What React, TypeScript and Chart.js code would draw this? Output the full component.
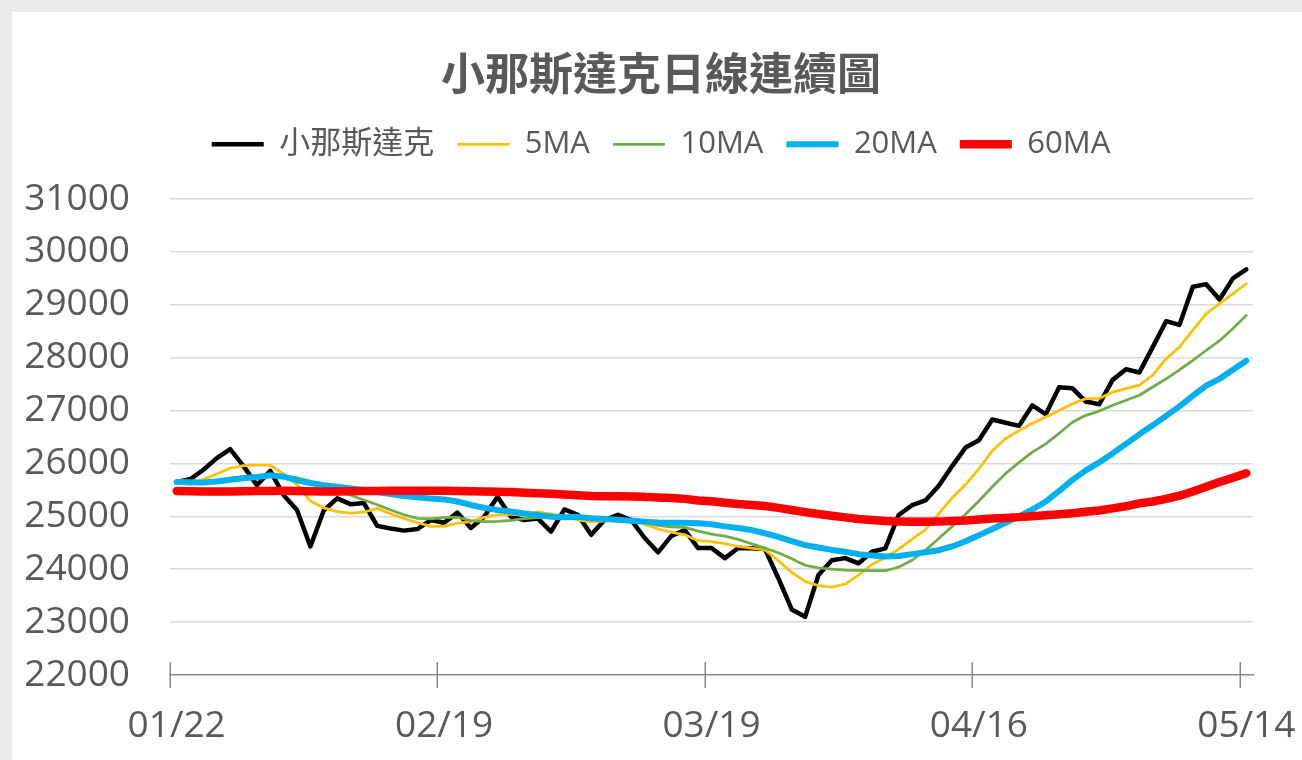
import React, { useEffect, useRef } from 'react';
import { Chart, registerables } from 'chart.js';

Chart.register(...registerables);

// Trading days (weekdays) from 01/22 to 05/14
const dates: string[] = [
  '01/22', '01/23', '01/26', '01/27', '01/28', '01/29', '01/30', '02/02', '02/03', '02/04',
  '02/05', '02/06', '02/09', '02/10', '02/11', '02/12', '02/13', '02/16', '02/17', '02/18',
  '02/19', '02/20', '02/23', '02/24', '02/25', '02/26', '02/27', '03/02', '03/03', '03/04',
  '03/05', '03/06', '03/09', '03/10', '03/11', '03/12', '03/13', '03/16', '03/17', '03/18',
  '03/19', '03/20', '03/23', '03/24', '03/25', '03/26', '03/27', '03/30', '03/31', '04/01',
  '04/02', '04/03', '04/06', '04/07', '04/08', '04/09', '04/10', '04/13', '04/14', '04/15',
  '04/16', '04/17', '04/20', '04/21', '04/22', '04/23', '04/24', '04/27', '04/28', '04/29',
  '04/30', '05/01', '05/04', '05/05', '05/06', '05/07', '05/08', '05/11', '05/12', '05/13',
  '05/14',
];

const labelStep = 20;
const yMin = 22000;
const yMax = 31000;
const yStep = 1000;

const seriesNames = ['小那斯達克', '5MA', '10MA', '20MA', '60MA'];

const nasdaq = [
  25650, 25700, 25880, 26100, 26270, 25950, 25590, 25860, 25400, 25120,
  24430, 25110, 25340, 25230, 25250, 24820, 24770, 24730, 24760, 24930,
  24880, 25070, 24780, 24990, 25370, 24990, 24930, 24960, 24710, 25130,
  25030, 24650, 24930, 25030, 24930, 24590, 24320, 24630, 24740, 24400,
  24400, 24210, 24400, 24395, 24380, 23830, 23240, 23100, 23890, 24170,
  24210, 24110, 24330, 24395, 25025, 25210, 25300, 25580, 25950, 26300,
  26440, 26830, 26770, 26710, 27100, 26930, 27440, 27420, 27170, 27120,
  27580, 27780, 27720, 28200, 28690, 28620, 29340, 29390, 29100, 29500,
  29670,
];

const ma5 = [
  25640, 25600, 25700, 25800, 25910, 25960, 25970, 25970, 25800, 25600,
  25290, 25160, 25090, 25060, 25080, 25150, 25050, 24960, 24880, 24810,
  24810, 24870, 24900, 24980, 25030, 25040, 25030, 25085, 25040, 25000,
  24930, 24900, 24910, 24935, 24940, 24850, 24760, 24700, 24650, 24540,
  24520, 24485, 24430, 24400, 24365, 24160, 23940, 23770, 23690, 23660,
  23720, 23890, 24090, 24220, 24380, 24570, 24750, 25050, 25350, 25600,
  25900, 26240, 26470, 26620, 26760, 26880, 27000, 27130, 27225, 27230,
  27350, 27415, 27480, 27670, 27980, 28200, 28520, 28830, 29020, 29210,
  29400,
];

const ma10 = [
  25650, 25640, 25650, 25680, 25720, 25750, 25770, 25780, 25760, 25730,
  25660, 25580, 25490, 25400, 25310, 25220, 25120, 25030, 24960, 24950,
  24975, 24985, 24920, 24900, 24905, 24925, 24955, 24975, 24990, 24990,
  24975, 24962, 24962, 24945, 24920, 24875, 24830, 24800, 24790, 24720,
  24665, 24625, 24565, 24480, 24400, 24310, 24200, 24075, 24025, 24000,
  23985, 23978, 23972, 23972, 24040, 24170, 24360, 24580, 24810, 25040,
  25290, 25560, 25810, 26020, 26215, 26370, 26570, 26780, 26910, 26990,
  27100, 27195, 27290, 27445, 27600, 27770, 27950, 28140, 28320, 28550,
  28800,
];

const ma20 = [
  25650, 25645, 25640, 25660, 25690, 25720, 25745, 25775, 25750, 25680,
  25630, 25590, 25560, 25525, 25500, 25460, 25420, 25385, 25360, 25335,
  25320, 25280, 25215, 25160, 25120, 25090, 25055, 25025, 24990, 24985,
  24990, 24965, 24950, 24935, 24915, 24900, 24885, 24880, 24880, 24868,
  24850, 24810, 24780, 24740, 24680, 24610, 24530, 24455, 24410, 24365,
  24330, 24285, 24260, 24240, 24250, 24285, 24320, 24360, 24430, 24530,
  24640, 24760, 24880, 25000, 25130, 25280, 25480, 25690, 25870, 26020,
  26190, 26370, 26550, 26720, 26900, 27080, 27280, 27470, 27600, 27770,
  27940,
];

const ma60 = [
  25480, 25475, 25470, 25470, 25470, 25475, 25478, 25480, 25482, 25480,
  25475, 25470, 25470, 25475, 25478, 25480, 25483, 25485, 25486, 25486,
  25484, 25480, 25476, 25470, 25465, 25458, 25448, 25437, 25425, 25415,
  25400, 25384, 25380, 25378, 25375, 25368, 25355, 25345, 25330, 25300,
  25285, 25258, 25232, 25215, 25195, 25160, 25120, 25080, 25045, 25010,
  24980, 24950, 24930, 24910, 24900, 24898, 24898, 24900, 24910, 24920,
  24940, 24960, 24970, 24985, 25000, 25020, 25040, 25060, 25085, 25110,
  25150, 25190, 25245, 25280, 25330, 25390, 25470, 25560, 25650, 25730,
  25815,
];

const seriesValues = [nasdaq, ma5, ma10, ma20, ma60];
const seriesColors = ['#000000', '#FFC000', '#70AD47', '#00B0F0', '#FF0000'];
const seriesWidths = [4.5, 2.75, 2.75, 6, 8.5];

const TEXT = '#595959';
const LATIN = "'Open Sans', 'Noto Sans CJK TC', sans-serif";
const CJK = "'Noto Sans CJK TC', 'Open Sans', sans-serif";
const AXIS = '#898989';

const crossTicks = {
  id: 'crossTicks',
  afterDatasetsDraw(chart: any) {
    const xs = chart.scales.x;
    const { ctx, chartArea } = chart;
    ctx.save();
    ctx.strokeStyle = AXIS;
    ctx.lineWidth = 1.5;
    for (let i = 0; i < dates.length; i += labelStep) {
      const px = Math.round(xs.getPixelForValue(i - 0.5)) + 0.25;
      ctx.beginPath();
      ctx.moveTo(px, chartArea.bottom - 13);
      ctx.lineTo(px, chartArea.bottom + 13);
      ctx.stroke();
    }
    ctx.restore();
  },
};

export default function App() {
  const ref = useRef<HTMLCanvasElement>(null);

  useEffect(() => {
    const canvas = ref.current;
    if (!canvas) return;
    const chart = new Chart(canvas, {
      type: 'line',
      data: {
        labels: dates,
        datasets: seriesNames.map((name, k) => ({
          label: name,
          data: seriesValues[k],
          borderColor: seriesColors[k],
          backgroundColor: seriesColors[k],
          borderWidth: seriesWidths[k],
          borderCapStyle: 'round',
          borderJoinStyle: 'round',
          pointRadius: 0,
          pointHoverRadius: 0,
          tension: 0,
          fill: false,
          order: seriesNames.length - k,
        })),
      },
      options: {
        responsive: false,
        animation: false,
        events: [],
        layout: { padding: { left: 8, right: 0, top: 0, bottom: 0 } },
        plugins: {
          title: {
            display: true,
            text: '小那斯達克日線連續圖',
            color: TEXT,
            font: { family: CJK, size: 44, weight: 'bold' },
            padding: { top: 35, bottom: 6 },
          },
          legend: {
            display: true,
            position: 'top',
            weight: 1800,
            labels: {
              usePointStyle: true,
              pointStyle: 'line',
              pointStyleWidth: 52,
              padding: 23,
              color: TEXT,
              font: { family: LATIN, size: 31 },
              sort: (a: any, b: any) => a.datasetIndex - b.datasetIndex,
            },
          },
          subtitle: {
            display: true,
            text: '',
            font: { size: 1 },
            padding: { top: 0, bottom: 28 },
          },
          tooltip: { enabled: false },
        },
        scales: {
          x: {
            type: 'category',
            offset: true,
            grid: {
              display: true,
              drawOnChartArea: false,
              drawTicks: true,
              tickLength: 26,
              color: 'transparent',
              offset: true,
            },
            border: { display: true, color: AXIS, width: 1.5 },
            ticks: {
              autoSkip: false,
              maxRotation: 0,
              minRotation: 0,
              padding: 3,
              color: TEXT,
              font: { family: LATIN, size: 37 },
              callback: (_v: any, i: number) => (i % labelStep === 0 ? dates[i] : ''),
            },
            afterFit: (s: any) => {
              s.height = 85;
              s.paddingLeft = 0;
              s.paddingRight = 49;
            },
          },
          y: {
            min: yMin,
            max: yMax,
            grid: {
              color: (c: any) => (c.tick && c.tick.value === yMin ? 'transparent' : '#d9d9d9'),
              lineWidth: 1.5,
              drawTicks: false,
            },
            border: { display: false },
            ticks: {
              stepSize: yStep,
              padding: 40,
              color: TEXT,
              font: { family: LATIN, size: 37 },
              callback: (v: any) => String(v),
            },
            afterFit: (s: any) => {
              s.width = 150;
            },
          },
        },
      },
      plugins: [crossTicks],
    } as any);
    return () => chart.destroy();
  }, []);

  return (
    <div
      style={{
        position: 'fixed',
        left: 0,
        top: 0,
        width: 1302,
        height: 760,
        background: '#ebebeb',
        overflow: 'hidden',
      }}
    >
      <div style={{ position: 'absolute', left: 12, top: 12, width: 1290, height: 748, background: '#ffffff' }}>
        <canvas ref={ref} width={1290} height={748} style={{ display: 'block', width: 1290, height: 748 }} />
      </div>
    </div>
  );
}
